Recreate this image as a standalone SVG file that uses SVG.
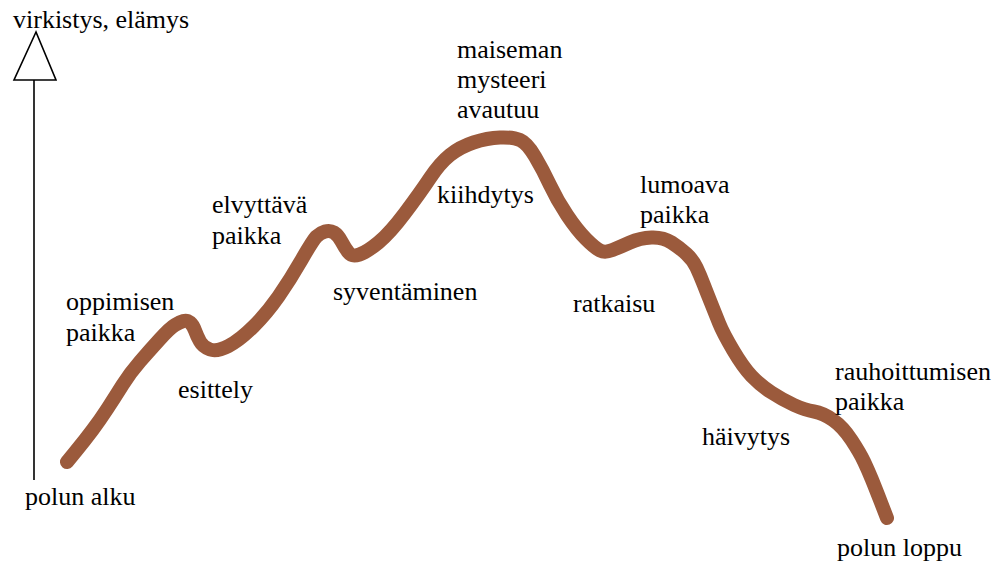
<svg xmlns="http://www.w3.org/2000/svg" width="1005" height="562" viewBox="0 0 1005 562">
<style>
  text { font-family: "Liberation Serif", "Times New Roman", Tinos, serif; font-size: 26px; fill: #000; }
  .trail { fill: none; stroke: #9B5A3C; stroke-width: 14; stroke-linejoin: round; stroke-linecap: round; }
  .axis { fill: #fff; stroke: #000; stroke-width: 1.6; }
</style>
<rect width="1005" height="562" fill="#fff"/>
<g id="axis">
  <line class="axis" x1="34" y1="80" x2="34" y2="480"/>
  <polygon class="axis" points="36,32 14,80 56,80"/>
  <text x="13" y="28">virkistys, elämys</text>
</g>
<g id="connectors">
  <path class="trail" d="M67,462 L76,451 Q85,440 92.5,430 Q100,420 107.5,408.5 Q115,397 122.5,385 Q130,373 140,361.5 Q150,350 160,339 Q170,328 175,325 Q180,322 183.5,321 Q187,320 190,322.5 Q193,325 195,330.5 Q197,336 200,341.5 Q203,347 210,349.5 Q217,352 228.5,346 Q240,340 253.5,326.5 Q267,313 278.5,296.5 Q290,280 301.5,260 Q313,240 316.5,236.5 Q320,233 325,231.5 Q330,230 334,232.5 Q338,235 341.5,241.5 Q345,248 348.5,252.5 Q352,257 359.5,254.5 Q367,252 378.5,242.5 Q390,233 405,213 Q420,193 430,178 Q440,163 450,155 Q460,147 473.5,142.5 Q487,138 500,137.5 Q513,137 520,140 Q527,143 535,156.5 Q543,170 550,185 Q557,200 567,215 Q577,230 586,239 Q595,248 600,250.5 Q605,253 612.5,250 Q620,247 630,242.5 Q640,238 651.5,237.5 Q663,237 671.5,242.5 Q680,248 686.5,254 Q693,260 696.5,267.5 Q700,275 703.5,284 Q707,293 711,303 Q715,313 719,323 Q723,333 733,350 Q743,367 751.5,376 Q760,385 771.5,392.5 Q783,400 794,405 Q805,410 814,411.5 Q823,413 833,420 Q843,427 851.5,440 Q860,453 864,461.5 Q868,470 871.5,478.5 Q875,487 881,502.5 L887,518"/>
</g>
<g id="start"><text x="25" y="505">polun alku</text></g>
<g id="oppimisen"><text x="66" y="310">oppimisen</text><text x="66" y="341">paikka</text></g>
<g id="esittely"><text x="178" y="398">esittely</text></g>
<g id="elvyttava"><text x="212" y="213">elvyttävä</text><text x="212" y="244">paikka</text></g>
<g id="syventaminen"><text x="333" y="300">syventäminen</text></g>
<g id="kiihdytys"><text x="437" y="203">kiihdytys</text></g>
<g id="mysteeri"><text x="457" y="58">maiseman</text><text x="457" y="88">mysteeri</text><text x="457" y="118">avautuu</text></g>
<g id="ratkaisu"><text x="573" y="312">ratkaisu</text></g>
<g id="lumoava"><text x="640" y="193">lumoava</text><text x="640" y="223">paikka</text></g>
<g id="haivytys"><text x="702" y="445">häivytys</text></g>
<g id="rauhoittumisen"><text x="835" y="380">rauhoittumisen</text><text x="835" y="410">paikka</text></g>
<g id="end"><text x="837" y="556">polun loppu</text></g>
</svg>
